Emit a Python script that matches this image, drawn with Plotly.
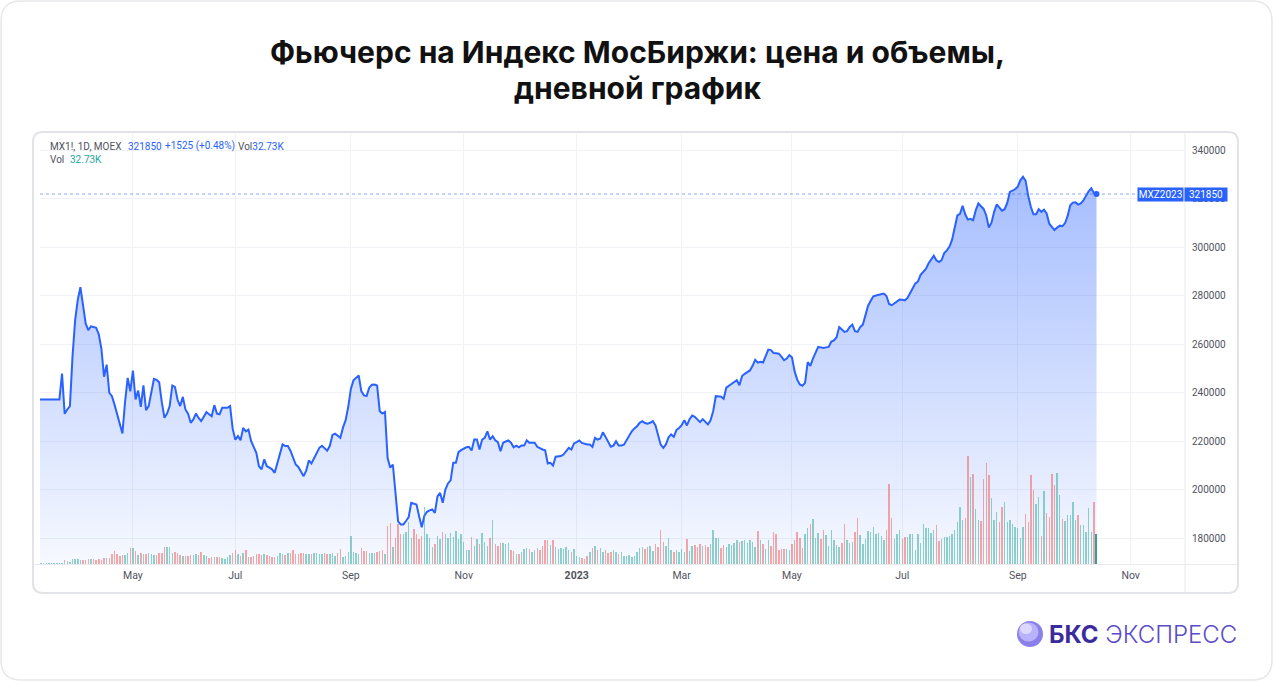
import pandas as pd
import plotly.graph_objects as go

# ---------------- data ----------------
start_date = "2022-03-11"
end_date = "2023-10-13"
holidays = ["2022-05-02", "2022-05-03", "2022-05-09", "2022-05-10", "2022-06-13",
            "2022-11-04", "2023-01-02", "2023-02-23", "2023-03-08", "2023-05-01",
            "2023-05-09", "2023-06-12"]
future_holidays = ["2023-11-06"]

price = [
    237100, 237100, 237100, 237100, 237100, 237100, 237100, 237100, 237100, 247800,
    231200, 233000, 234400, 255000, 270000, 278300, 283400, 276000, 268500, 265700,
    267300, 267000, 266700, 264000, 258000, 246500, 251500, 239900, 238500, 235000,
    231000, 227000, 223100, 236000, 246000, 240500, 249000, 237100, 240800, 234100,
    242900, 232700, 234400, 240000, 245600, 245200, 244200, 236000, 229600, 231300,
    234400, 242900, 242300, 237000, 234400, 238200, 233000, 231300, 227500, 228900,
    231300, 229500, 228200, 230000, 231900, 231000, 230200, 234800, 231300, 231000,
    233700, 233700, 233700, 234400, 225000, 220500, 222000, 220300, 225400, 224000,
    224700, 220000, 217200, 215100, 209600, 208300, 212400, 209600, 209000, 208300,
    206900, 211000, 215500, 218600, 217900, 217900, 216000, 212800, 210300, 209300,
    207500, 205500, 207800, 212000, 210700, 213100, 214800, 217200, 218000, 216800,
    216000, 218000, 222500, 223000, 222200, 221300, 225500, 228500, 234000, 241500,
    245000, 246200, 247000, 240500, 238800, 238500, 242000, 243200, 243300, 242900,
    232300, 231300, 232000, 213000, 209000, 210300, 198000, 186900, 185600, 185600,
    187000, 188500, 194500, 194300, 193800, 189000, 184400, 189200, 190800, 191400,
    191800, 190400, 197200, 198600, 194500, 200000, 202500, 203800, 211000, 211000,
    215400, 216200, 216800, 217400, 217600, 216100, 220600, 220600, 216500, 220600,
    221300, 224000, 220600, 222000, 220300, 219500, 215800, 219300, 219800, 220200,
    219300, 217400, 218100, 217400, 218100, 218100, 220300, 219300, 219300, 219300,
    217600, 217000, 216500, 216200, 210700, 211000, 209900, 213500, 213500, 213800,
    214400, 216000, 217200, 216500, 219000, 219500, 220200, 219200, 218800, 218600,
    218600, 217600, 221300, 220600, 221000, 223600, 221700, 219500, 217600, 218100,
    219900, 218100, 218100, 218500, 220300, 222500, 224000, 225200, 226100, 227500,
    228200, 227400, 227100, 227500, 228200, 226500, 222000, 218500, 217200, 218600,
    221500, 222700, 221700, 224500, 225400, 226500, 228600, 226400, 229000, 230500,
    230000, 229000, 227800, 229000, 228000, 226800, 228500, 232300, 238500, 238500,
    238300, 237400, 242000, 242800, 243700, 244500, 245100, 243000, 246800, 247700,
    248400, 249100, 251000, 253500, 252300, 252700, 252400, 255000, 257700, 257500,
    256300, 256200, 256000, 254800, 253300, 254000, 255400, 254500, 248800, 245300,
    243300, 242800, 244000, 252500, 251000, 254000, 256600, 258800, 258600, 258400,
    258600, 258800, 261000, 261500, 262800, 267000, 266000, 265000, 265300, 267000,
    268000, 265300, 265000, 267000, 268000, 272500, 275800, 277800, 279700, 280000,
    280200, 280500, 280800, 279800, 276500, 276000, 276800, 277600, 278300, 278200,
    278000, 279000, 280800, 283000, 285000, 285800, 288500, 290000, 291000, 293200,
    295000, 296400, 294500, 293800, 294600, 297500, 298600, 300200, 303000, 308500,
    313000, 313700, 317000, 313500, 311300, 311600, 311000, 315100, 318000, 316800,
    315700, 313000, 308000, 310000, 314500, 317600, 316500, 315000, 315600, 318200,
    322700, 323200, 323800, 324900, 327500, 329000, 327300, 321000, 316500, 313500,
    313500, 315600, 314500, 315400, 313800, 309600, 308200, 307000, 308000, 308800,
    308600, 309800, 312800, 317200, 318300, 318400, 317500, 318000, 319200, 321300,
    323000, 324200, 322300, 321850,
]

volume = [
    600, 600, 600, 600, 600, 600, 600, 600, 600, 700,
    4400, 3300, 1900, 5500, 5500, 5100, 4400, 3900, 3900, 5000,
    5500, 5500, 3900, 5000, 3900, 6600, 6600, 7100, 11000, 14000,
    11000, 8800, 9500, 10200, 11700, 17900, 17900, 14000, 10200, 12400,
    11300, 11000, 11700, 11300, 10200, 10200, 11700, 12100, 18300, 18700,
    18700, 12400, 13200, 11700, 9500, 9100, 9100, 9100, 9500, 9900,
    11000, 9900, 12900, 9900, 8800, 6600, 7400, 7700, 7700, 7400,
    6600, 5800, 7700, 9900, 12100, 15700, 10700, 9100, 11700, 15700,
    7400, 7700, 8800, 11300, 10700, 10200, 10700, 9900, 8800, 8000,
    8000, 8500, 11700, 10700, 9500, 11700, 12100, 15100, 11300, 11300,
    11700, 11700, 11000, 11000, 10700, 11700, 11700, 11300, 11000, 12100,
    10700, 10700, 12100, 8500, 11700, 16500, 8000, 9100, 13200, 30500,
    13200, 11700, 11000, 17900, 14600, 14000, 12100, 11700, 12100, 13500,
    14300, 15100, 11300, 41800, 45100, 19000, 28600, 44000, 33000, 33000,
    35200, 46200, 28600, 38500, 33000, 27500, 30800, 62700, 33000, 28600,
    18700, 22000, 30800, 27500, 35200, 33000, 28600, 34100, 29700, 36300,
    27500, 33000, 24200, 15400, 15400, 29700, 19800, 27500, 22000, 34100,
    24200, 19800, 28600, 48400, 22000, 19800, 23100, 23100, 22000, 23100,
    15400, 14300, 11000, 11000, 13200, 16500, 17600, 16500, 13200, 15400,
    17600, 15400, 19800, 26400, 26400, 20900, 26400, 18700, 16500, 17600,
    16500, 18700, 15400, 13200, 16500, 8800, 7700, 6600, 5500, 8800,
    13200, 17600, 19800, 15400, 17600, 13200, 15400, 12100, 13200, 15400,
    13200, 11000, 13200, 8800, 8800, 9900, 7700, 8800, 13200, 17600,
    18700, 16500, 18700, 19800, 14300, 22000, 18700, 37400, 24200, 19800,
    28600, 15400, 13200, 15400, 13200, 16500, 13200, 27500, 14300, 19800,
    20900, 18700, 22000, 19800, 20900, 18700, 22000, 37400, 28600, 28600,
    17600, 20900, 18700, 22000, 20900, 23100, 26400, 24200, 25300, 26400,
    23100, 26400, 24200, 18700, 36300, 26400, 22000, 16500, 26400, 19800,
    35200, 33000, 15400, 16500, 16500, 16500, 15400, 22000, 26400, 35200,
    28600, 17600, 33000, 39600, 44000, 49500, 28600, 34100, 27500, 37400,
    31900, 19800, 37400, 26400, 20900, 18700, 23100, 44000, 26400, 23100,
    24200, 35200, 50600, 31900, 22000, 27500, 36300, 35200, 40700, 33000,
    34100, 30800, 26400, 37400, 88000, 50600, 27500, 33000, 37400, 27500,
    29700, 29700, 33000, 33000, 15400, 33000, 23100, 44000, 39600, 39600,
    34100, 37400, 42900, 25300, 27500, 29700, 29700, 30800, 33000, 37400,
    46200, 62700, 48400, 50600, 118800, 95700, 99000, 60500, 48400, 47300,
    93500, 111100, 97900, 72600, 48400, 57200, 46200, 62700, 68200, 46200,
    48400, 44000, 40700, 39600, 28600, 40700, 55000, 46200, 97900, 81400,
    66000, 73700, 30800, 80300, 56100, 51700, 99000, 86900, 100100, 75900,
    49500, 47300, 53900, 53900, 68200, 48400, 53900, 42900, 42900, 35200,
    61600, 35200, 68200, 32730,
]

tick_dates = ["2022-05-04", "2022-07-01", "2022-09-01", "2022-11-01", "2023-01-03",
              "2023-03-01", "2023-05-02", "2023-07-03", "2023-09-01", "2023-11-01"]
tick_text = ["May", "Jul", "Sep", "Nov", "<b>2023</b>", "Mar", "May", "Jul", "Sep", "Nov"]

last_price = 321850
symbol = "MX1!, 1D, MOEX"
contract = "MXZ2023"
change_text = "+1525 (+0.48%)"
vol_text = "32.73K"
title_lines = ["Фьючерс на Индекс МосБиржи: цена и объемы,", "дневной график"]

# ---------------- build ----------------
dates = [d for d in pd.bdate_range(start_date, end_date) if d.strftime("%Y-%m-%d") not in holidays]
n = min(len(dates), len(price), len(volume))
dates = dates[:n]
price = price[:n]
volume = volume[:n]

UP = "rgba(38,166,154,0.5)"
DOWN = "rgba(239,83,80,0.5)"
vol_colors = [UP] + [UP if price[i] >= price[i - 1] else DOWN for i in range(1, n)]
vol_colors[-1] = "rgba(38,166,154,1)"

W, H = 1273, 681
L, R, T, B = 40, 1185, 134, 564


def fx(px):
    return (px - L) / (R - L)


def fy(py):
    return (B - py) / (B - T)


Y0 = 169278
Y1 = 346598

fig = go.Figure()
fig.add_trace(go.Scatter(
    x=dates, y=price, mode="lines",
    line=dict(color="#2962ff", width=2),
    fill="tozeroy",
    fillgradient=dict(type="vertical",
                      colorscale=[[0, "rgba(41,98,255,0.04)"], [1, "rgba(41,98,255,0.42)"]],
                      start=Y0, stop=330000),
    hoverinfo="skip", showlegend=False,
))
fig.add_trace(go.Scatter(
    x=[dates[-1]], y=[price[-1]], mode="markers",
    marker=dict(color="#2962ff", size=6),
    hoverinfo="skip", showlegend=False,
))
fig.add_trace(go.Bar(
    x=dates, y=volume, yaxis="y2",
    marker=dict(color=vol_colors, line=dict(width=0)),
    width=0.55 * 86400000,
    hoverinfo="skip", showlegend=False,
))


def rrect(x0, y0, x1, y1, r):
    pts = [
        f"M {fx(x0 + r)},{fy(y0)}",
        f"L {fx(x1 - r)},{fy(y0)}",
        f"Q {fx(x1)},{fy(y0)} {fx(x1)},{fy(y0 + r)}",
        f"L {fx(x1)},{fy(y1 - r)}",
        f"Q {fx(x1)},{fy(y1)} {fx(x1 - r)},{fy(y1)}",
        f"L {fx(x0 + r)},{fy(y1)}",
        f"Q {fx(x0)},{fy(y1)} {fx(x0)},{fy(y1 - r)}",
        f"L {fx(x0)},{fy(y0 + r)}",
        f"Q {fx(x0)},{fy(y0)} {fx(x0 + r)},{fy(y0)}",
        "Z",
    ]
    return " ".join(pts)


shapes = [
    dict(type="path", xref="paper", yref="paper", path=rrect(1, 1, 1272, 680, 20),
         line=dict(color="#e8e8ea", width=1.5), layer="below"),
    dict(type="path", xref="paper", yref="paper", path=rrect(33, 132, 1238, 593, 10),
         line=dict(color="#e2e3e7", width=2), layer="above"),
    dict(type="line", xref="paper", yref="paper", x0=fx(1185), x1=fx(1185), y0=fy(133), y1=fy(592),
         line=dict(color="#e9eaee", width=1)),
    dict(type="line", xref="paper", yref="paper", x0=fx(34), x1=fx(1237), y0=fy(564.5), y1=fy(564.5),
         line=dict(color="#e9eaee", width=1)),
    dict(type="line", xref="paper", yref="y", x0=0, x1=1, y0=last_price, y1=last_price,
         line=dict(color="rgba(41,98,255,0.55)", width=1, dash="dot")),
    # logo sphere
    dict(type="circle", xref="paper", yref="paper", x0=fx(1017), x1=fx(1043), y0=fy(647), y1=fy(621),
         fillcolor="#8b80ea", line=dict(width=0)),
    dict(type="circle", xref="paper", yref="paper", x0=fx(1018.5), x1=fx(1038.5), y0=fy(641.5), y1=fy(622.5),
         fillcolor="#b9b2fa", line=dict(width=0)),
    dict(type="circle", xref="paper", yref="paper", x0=fx(1020), x1=fx(1032), y0=fy(634), y1=fy(623.5),
         fillcolor="#dcd8ff", line=dict(width=0)),
]

ann_font = dict(family="Roboto", size=10)
title_font = dict(family="Inter", size=30, color="#111111", weight=700)
annotations = [
    dict(text=title_lines[0], x=fx(637), y=fy(52), xref="paper", yref="paper", xanchor="center",
         yanchor="middle", showarrow=False, font=title_font),
    dict(text=title_lines[1], x=fx(637), y=fy(88), xref="paper", yref="paper", xanchor="center",
         yanchor="middle", showarrow=False, font=title_font),
    dict(text=symbol, x=fx(47.5), y=fy(146), xref="paper", yref="paper", xanchor="left", yanchor="middle",
         showarrow=False, font=dict(ann_font, color="#50535e")),
    dict(text=f"{last_price}", x=fx(125.5), y=fy(146), xref="paper", yref="paper", xanchor="left",
         yanchor="middle", showarrow=False, font=dict(ann_font, color="#2962ff")),
    dict(text=change_text, x=fx(162.5), y=fy(146), xref="paper", yref="paper", xanchor="left",
         yanchor="middle", showarrow=False, font=dict(ann_font, color="#2962ff")),
    dict(text=f"<span style='color:#50535e'>Vol</span><span style='color:#2962ff'>{vol_text}</span>",
         x=fx(235.5), y=fy(146), xref="paper", yref="paper", xanchor="left",
         yanchor="middle", showarrow=False, font=ann_font),
    dict(text="Vol", x=fx(47.5), y=fy(159), xref="paper", yref="paper", xanchor="left",
         yanchor="middle", showarrow=False, font=dict(ann_font, color="#50535e")),
    dict(text=vol_text, x=fx(67.5), y=fy(159), xref="paper", yref="paper", xanchor="left",
         yanchor="middle", showarrow=False, font=dict(ann_font, color="#26a69a")),
    # price label boxes
    dict(text=contract, x=fx(1160.5), y=last_price, xref="paper", yref="y", xanchor="center",
         yanchor="middle", showarrow=False, bgcolor="#2962ff", borderpad=0, width=45, height=13,
         font=dict(family="Roboto", size=10, color="#ffffff")),
    dict(text=f"{last_price}", x=fx(1206), y=last_price, xref="paper", yref="y", xanchor="center",
         yanchor="middle", showarrow=False, bgcolor="#2962ff", borderpad=0, width=42, height=13,
         font=dict(family="Roboto", size=10, color="#ffffff")),
    # logo text
    dict(text="<span style='color:#3b2c9e'><b>БКС</b></span> "
              "<span style='color:#5a4cc6;font-weight:300'>ЭКСПРЕСС</span>",
         x=fx(1047), y=fy(634.5), xref="paper", yref="paper", xanchor="left", yanchor="middle",
         showarrow=False, font=dict(family="Inter", size=24)),
]

fig.update_layout(
    width=W, height=H, autosize=False,
    margin=dict(l=L, r=W - R, t=T, b=H - B, pad=0),
    paper_bgcolor="#ffffff", plot_bgcolor="rgba(0,0,0,0)",
    showlegend=False, hovermode=False, bargap=0,
    xaxis=dict(
        type="date",
        range=["2022-03-11 14:38", "2023-11-30 16:48"],
        rangebreaks=[dict(bounds=["sat", "mon"]), dict(values=holidays + future_holidays)],
        tickmode="array", tickvals=tick_dates, ticktext=tick_text,
        showgrid=True, gridcolor="#f1f2f5", gridwidth=1,
        zeroline=False, showline=False, ticks="",
        tickfont=dict(family="Roboto", size=10.5, color="#50535e"),
        ticklabelstandoff=3,
    ),
    yaxis=dict(
        side="right", range=[Y0, Y1], tick0=0, dtick=20000, tickformat="d",
        showgrid=True, gridcolor="#f1f2f5", gridwidth=1,
        zeroline=False, showline=False, ticks="",
        tickfont=dict(family="Roboto", size=10, color="#50535e"),
        ticklabelstandoff=6,
    ),
    yaxis2=dict(overlaying="y", range=[0, 473000], visible=False, fixedrange=True),
    shapes=shapes,
    annotations=annotations,
)

fig.write_html("out.html", config={"displayModeBar": False},
               post_script="document.body.style.margin='0';")
